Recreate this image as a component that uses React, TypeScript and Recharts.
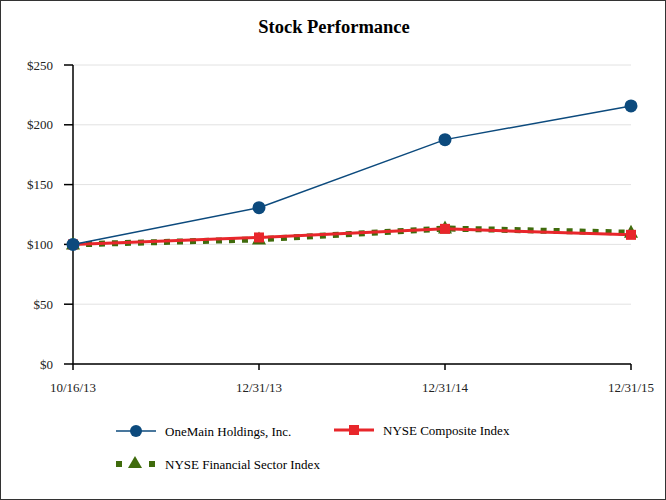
import { CartesianGrid, Line, LineChart, XAxis, YAxis } from "recharts";

const dates = ["10/16/13", "12/31/13", "12/31/14", "12/31/15"];
const oneMain = [100, 130.7, 187.6, 215.8];
const nyseComposite = [100, 105.8, 113.0, 108.0];
const nyseFinancial = [100, 104.2, 113.3, 109.8];
const yTicks = [0, 50, 100, 150, 200, 250];

const NAVY = "#0c4a7d";
const RED = "#e8262b";
const GREEN = "#3f6b0c";
const FONT = "'Liberation Serif', 'Times New Roman', serif";

const data = dates.map((d, i) => ({
  date: d,
  oneMain: oneMain[i],
  composite: nyseComposite[i],
  financial: nyseFinancial[i],
}));

function CircleDot(props: any) {
  const { cx, cy } = props;
  if (cx == null || cy == null) return null;
  return <circle cx={cx} cy={cy} r={6.5} fill={NAVY} />;
}

function SquareDot(props: any) {
  const { cx, cy } = props;
  if (cx == null || cy == null) return null;
  return <rect x={cx - 5} y={cy - 5} width={10} height={10} fill={RED} />;
}

function TriangleDot(props: any) {
  const { cx, cy } = props;
  if (cx == null || cy == null) return null;
  return (
    <polygon
      points={`${cx},${cy - 8} ${cx - 7},${cy + 5} ${cx + 7},${cy + 5}`}
      fill={GREEN}
    />
  );
}

function Legend() {
  const text = { fontFamily: FONT, fontSize: 13, fill: "#000" };
  return (
    <svg width={666} height={80} style={{ position: "absolute", left: 0, top: 410 }}>
      <line x1={115} y1={20} x2={155} y2={20} stroke={NAVY} strokeWidth={1.5} />
      <circle cx={135} cy={20} r={6} fill={NAVY} />
      <text x={164} y={24.5} {...text}>OneMain Holdings, Inc.</text>

      <line x1={333} y1={19} x2={373} y2={19} stroke={RED} strokeWidth={3} />
      <rect x={348} y={14} width={10} height={10} fill={RED} />
      <text x={382} y={24} {...text}>NYSE Composite Index</text>

      <rect x={115} y={50} width={6} height={6} fill={GREEN} />
      <polygon points="134,45 127,57 141,57" fill={GREEN} />
      <rect x={148} y={50} width={6} height={6} fill={GREEN} />
      <text x={164} y={57.5} {...text}>NYSE Financial Sector Index</text>
    </svg>
  );
}

export default function App() {
  document.body.style.margin = "0";
  return (
    <div
      style={{
        position: "relative",
        width: 666,
        height: 500,
        boxSizing: "border-box",
        border: "1px solid #333",
        background: "#fff",
        overflow: "hidden",
      }}
    >
      <div
        style={{
          position: "absolute",
          top: 16,
          left: 0,
          width: 666,
          textAlign: "center",
          fontFamily: FONT,
          fontWeight: "bold",
          fontSize: 18.5,
        }}
      >
        Stock Performance
      </div>
      <div style={{ position: "absolute", left: -1, top: -1 }}>
        <LineChart
          width={666}
          height={500}
          data={data}
          margin={{ top: 65, right: 35, left: 0, bottom: 106 }}
        >
          <CartesianGrid vertical={false} stroke="#e2e2e2" strokeWidth={1} />
          <XAxis
            dataKey="date"
            padding={{ left: 0, right: 0 }}
            height={30}
            tickSize={6}
            tickMargin={13}
            stroke="#000"
            axisLine={{ stroke: "#000", strokeWidth: 1.5 }}
            tickLine={{ stroke: "#000", strokeWidth: 1.5 }}
            tick={{ fontFamily: FONT, fontSize: 13, fill: "#222" }}
            interval={0}
          />
          <YAxis
            width={73}
            domain={[0, 250]}
            ticks={yTicks}
            tickSize={9}
            tickMargin={11}
            axisLine={{ stroke: "#000", strokeWidth: 1.5 }}
            tickLine={{ stroke: "#000", strokeWidth: 1.5 }}
            tick={{ fontFamily: FONT, fontSize: 13, fill: "#222" }}
            tickFormatter={(v: number) => `$${v}`}
          />
          <Line
            type="linear"
            dataKey="financial"
            stroke={GREEN}
            strokeWidth={6}
            strokeDasharray="6 7"
            dot={<TriangleDot />}
            activeDot={false}
            isAnimationActive={false}
          />
          <Line
            type="linear"
            dataKey="composite"
            stroke={RED}
            strokeWidth={3}
            dot={<SquareDot />}
            activeDot={false}
            isAnimationActive={false}
          />
          <Line
            type="linear"
            dataKey="oneMain"
            stroke={NAVY}
            strokeWidth={1.5}
            dot={<CircleDot />}
            activeDot={false}
            isAnimationActive={false}
          />
        </LineChart>
      </div>
      <Legend />
    </div>
  );
}
